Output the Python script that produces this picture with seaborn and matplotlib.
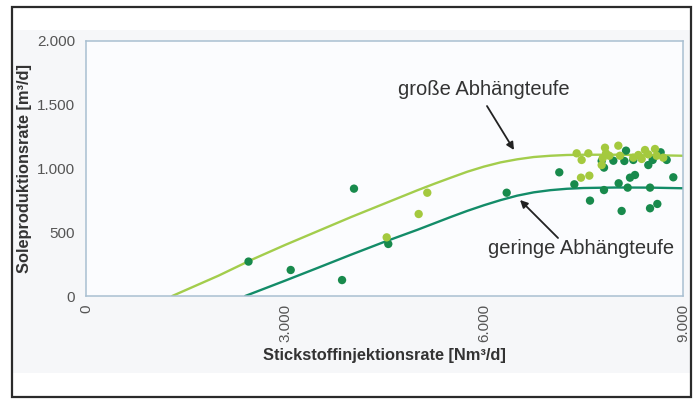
import matplotlib
matplotlib.use("Agg")
import matplotlib.pyplot as plt
from matplotlib.patches import Rectangle
import numpy as np
import pandas as pd
import seaborn as sns

# Trend curves: brine production vs. nitrogen injection rate
curve_x_gross = [1300, 2000, 2500, 3000, 3500, 4000, 4500, 5000, 5250, 5500, 5750,
                 6000, 6250, 6500, 6750, 7000, 7250, 7500, 8000, 8500, 9000]
curve_y_gross = [0, 160, 285, 400, 510, 620, 725, 830, 880, 928, 975,
                 1015, 1048, 1072, 1090, 1100, 1106, 1108, 1108, 1105, 1100]

curve_x_gering = [2400, 3000, 3500, 4000, 4500, 5000, 5250, 5500, 5750, 6000, 6250,
                  6500, 6750, 7000, 7250, 7500, 8000, 8500, 9000]
curve_y_gering = [0, 120, 222, 325, 425, 520, 570, 620, 668, 712, 752,
                  787, 813, 830, 841, 847, 851, 850, 845]

# Measured points, large hanging depth (light green)
pts_x_gross = [4533, 5015, 5145, 7397, 7472, 7573, 7462, 7588, 7824, 7839, 7789, 7774,
               8025, 7889, 8050, 8251, 8327, 8427, 8477, 8578, 8603, 8703, 8377]
pts_y_gross = [460, 643, 810, 1119, 1067, 1119, 928, 944, 1163, 1119, 1080, 1027,
               1179, 1100, 1100, 1085, 1106, 1145, 1111, 1153, 1100, 1085, 1075]

# Measured points, small hanging depth (dark green)
pts_x_gering = [2450, 3086, 3860, 4040, 4557, 6342, 7135, 7362, 7598, 7809, 7809, 8030,
                8166, 8201, 8276, 8075, 8503, 8503, 8613, 8854, 8141, 8116, 7950, 8251,
                8477, 8543, 8663, 8754, 7774]
pts_y_gering = [270, 204, 125, 842, 408, 810, 970, 876, 748, 831, 1007, 884,
                850, 928, 949, 667, 850, 688, 722, 931, 1140, 1059, 1061, 1067,
                1027, 1067, 1127, 1067, 1059]

x_ticks = [0, 3000, 6000, 9000]
x_ticklabels = ["0", "3.000", "6.000", "9.000"]
y_ticks = [0, 500, 1000, 1500, 2000]
y_ticklabels = ["0", "500", "1.000", "1.500", "2.000"]

LIGHT_LINE = "#a3cd4c"
DARK_LINE = "#138c68"
LIGHT_PT = "#a4c93e"
DARK_PT = "#188a4c"

sns.set_style("white")
plt.rcParams["font.family"] = ["Liberation Sans", "DejaVu Sans"]

fig = plt.figure(figsize=(6.96, 3.99), dpi=100)
W, H = 696, 399

# faint panel tint and dark outer frame
fig.patches.append(Rectangle((13 / W, (H - 373) / H), 677 / W, 343 / H,
                             transform=fig.transFigure, facecolor="#f6f7f9",
                             edgecolor="none", zorder=-5))
fig.patches.append(Rectangle((12 / W, (H - 397) / H), 679 / W, 390 / H,
                             transform=fig.transFigure, facecolor="none",
                             edgecolor="#2b2b2b", linewidth=1.6, zorder=5))

ax = fig.add_axes([86 / W, (H - 296) / H, 597 / W, 255 / H])
ax.set_facecolor("#fbfcfe")

curves = pd.concat([
    pd.DataFrame({"x": curve_x_gross, "y": curve_y_gross, "serie": "gross"}),
    pd.DataFrame({"x": curve_x_gering, "y": curve_y_gering, "serie": "gering"}),
])
sns.lineplot(data=curves, x="x", y="y", hue="serie",
             palette={"gross": LIGHT_LINE, "gering": DARK_LINE},
             linewidth=1.7, legend=False, ax=ax, zorder=2, sort=True,
             estimator=None)

points = pd.concat([
    pd.DataFrame({"x": pts_x_gering, "y": pts_y_gering, "serie": "gering"}),
    pd.DataFrame({"x": pts_x_gross, "y": pts_y_gross, "serie": "gross"}),
])
sns.scatterplot(data=points, x="x", y="y", hue="serie",
                palette={"gross": LIGHT_PT, "gering": DARK_PT},
                s=36, linewidth=0, legend=False, ax=ax, zorder=3)

ax.set_xlim(0, 9000)
ax.set_ylim(0, 2000)
ax.set_xticks(x_ticks)
ax.set_xticklabels(x_ticklabels, rotation=90)
ax.set_yticks(y_ticks)
ax.set_yticklabels(y_ticklabels)
ax.tick_params(axis="both", labelsize=11, colors="#555555", length=3,
               width=0.8, direction="out", pad=3)
ax.tick_params(axis="y", pad=5)
for sp in ax.spines.values():
    sp.set_color("#a9bfd1")
    sp.set_linewidth(1.1)

ax.set_xlabel("Stickstoffinjektionsrate [Nm³/d]", fontsize=11.8,
              fontweight="bold", color="#333333")
ax.set_ylabel("Soleproduktionsrate [m³/d]", fontsize=11.8,
              fontweight="bold", color="#333333")
ax.xaxis.set_label_coords(0.5, -0.205)
ax.yaxis.set_label_coords(-0.09, 0.5)

ax.annotate("", xy=(6452, 1145), xytext=(6045, 1490),
            arrowprops=dict(arrowstyle="-|>", color="#222222", lw=1.3,
                            mutation_scale=11, shrinkA=0, shrinkB=0))
ax.text(6000, 1616, "große Abhängteufe", ha="center", va="center",
        fontsize=14.5, color="#333333")

ax.annotate("", xy=(6543, 753), xytext=(7116, 455),
            arrowprops=dict(arrowstyle="-|>", color="#222222", lw=1.3,
                            mutation_scale=11, shrinkA=0, shrinkB=0))
ax.text(7462, 376, "geringe Abhängteufe", ha="center", va="center",
        fontsize=14.5, color="#333333")

fig.savefig("out.png", dpi=100)
